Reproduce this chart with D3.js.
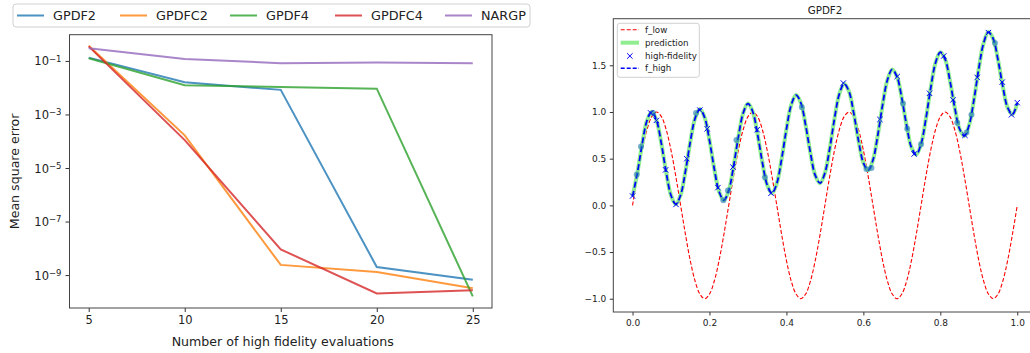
<!DOCTYPE html>
<html>
<head>
<meta charset="utf-8">
<script src="https://cdn.jsdelivr.net/npm/d3@7"></script>
<style>
  html, body { margin: 0; padding: 0; background: #fff; }
  svg { display: block; font-family: "DejaVu Sans", sans-serif; }
</style>
</head>
<body>
<svg id="chart" width="1030" height="353"></svg>
<script>
// ---------- Left chart data ----------
const evals = [5, 10, 15, 20, 25];
const seriesNames = ["GPDF2", "GPDFC2", "GPDF4", "GPDFC4", "NARGP"];
const gpdf2  = [0.133, 0.016, 0.0083, 2.0e-9, 6.7e-10];
const gpdfc2 = [0.37, 1.66e-4, 2.4e-9, 1.3e-9, 3.2e-10];
const gpdf4  = [0.126, 0.0123, 0.0107, 0.0092, 1.6e-10];
const gpdfc4 = [0.35, 1.1e-4, 9.1e-9, 2.06e-10, 2.7e-10];
const nargp  = [0.30, 0.119, 0.082, 0.087, 0.082];
const leftXTicks = [5, 10, 15, 20, 25];
const leftYTickExps = [-1, -3, -5, -7, -9];
const seriesColors = ["#1f77b4", "#ff7f0e", "#2ca02c", "#d62728", "#9467bd"];

// ---------- Right chart data ----------
const xGrid = d3.range(81).map(k => k / 80);
const fLow = [
  0, 0.31, 0.59, 0.81, 0.95, 1, 0.95, 0.81, 0.59, 0.31, 0, -0.31, -0.59, -0.81, -0.95, -1, -0.95, -0.81, -0.59, -0.31,
  0, 0.31, 0.59, 0.81, 0.95, 1, 0.95, 0.81, 0.59, 0.31, 0, -0.31, -0.59, -0.81, -0.95, -1, -0.95, -0.81, -0.59, -0.31,
  0, 0.31, 0.59, 0.81, 0.95, 1, 0.95, 0.81, 0.59, 0.31, 0, -0.31, -0.59, -0.81, -0.95, -1, -0.95, -0.81, -0.59, -0.31,
  0, 0.31, 0.59, 0.81, 0.95, 1, 0.95, 0.81, 0.59, 0.31, 0, -0.31, -0.59, -0.81, -0.95, -1, -0.95, -0.81, -0.59, -0.31,
  0
];
const fHigh = [
  0.096, 0.346, 0.655, 0.906, 1.003, 0.908, 0.660, 0.353, 0.106, 0.013,
  0.111, 0.364, 0.677, 0.931, 1.031, 0.940, 0.695, 0.391, 0.146, 0.056,
  0.158, 0.414, 0.730, 0.987, 1.090, 1.002, 0.760, 0.459, 0.218, 0.131,
  0.236, 0.496, 0.815, 1.075, 1.181, 1.096, 0.857, 0.559, 0.321, 0.238,
  0.346, 0.608, 0.930, 1.193, 1.303, 1.221, 0.985, 0.691, 0.456, 0.375,
  0.486, 0.752, 1.077, 1.343, 1.456, 1.377, 1.145, 0.853, 0.621, 0.544,
  0.658, 0.927, 1.255, 1.525, 1.640, 1.565, 1.335, 1.047, 0.818, 0.744,
  0.861, 1.133, 1.465, 1.737, 1.856, 1.783, 1.557, 1.272, 1.046, 0.975,
  1.096
];
const prediction = fHigh.slice();
const hfX = [0.0, 0.047, 0.062, 0.086, 0.113, 0.141, 0.175, 0.194, 0.222, 0.261, 0.324, 0.36,
             0.548, 0.643, 0.688, 0.732, 0.772, 0.809, 0.833, 0.864, 0.896, 0.925, 0.961, 0.985, 1.0];
const hfY = [0.10, 0.99, 0.91, 0.38, 0.01, 0.50, 1.02, 0.82, 0.19, 0.41, 0.81, 0.13,
             1.31, 0.92, 1.38, 0.55, 1.20, 1.60, 1.13, 0.75, 1.37, 1.85, 1.32, 0.97, 1.10];
const extraX = [0.011, 0.022, 0.053, 0.165, 0.236, 0.248, 0.27, 0.344, 0.44, 0.608, 0.621,
                0.703, 0.714, 0.75, 0.844, 0.868, 0.881, 0.942];
const extraY = [0.33, 0.63, 0.99, 0.99, 0.055, 0.16, 0.70, 0.30, 1.05, 0.39, 0.40,
                1.09, 0.82, 0.655, 0.885, 0.78, 0.97, 1.74];
const rightXTicks = [0.0, 0.2, 0.4, 0.6, 0.8, 1.0];
const rightYTicks = [-1.0, -0.5, 0.0, 0.5, 1.0, 1.5];
const rightLegend = ["f_low", "prediction", "high-fidelity", "f_high"];

const svg = d3.select("#chart");
const minus = s => s.replace("-", "\u2212");

// ================= LEFT CHART =================
const L = { left: 69.5, right: 492, top: 34.7, bottom: 308 };
const lx = d3.scaleLinear().domain([4, 26]).range([L.left, L.right]);
const ly = d3.scaleLog().domain([Math.pow(10, -10.23), Math.pow(10, -0.02)]).range([L.bottom, L.top]);

const lg = svg.append("g");
lg.append("defs").append("clipPath").attr("id", "clipL")
  .append("rect").attr("x", L.left).attr("y", L.top).attr("width", L.right - L.left).attr("height", L.bottom - L.top);

const allSeries = [gpdf2, gpdfc2, gpdf4, gpdfc4, nargp];
const lineL = d3.line().x((d, i) => lx(evals[i])).y(d => ly(d));
const plotL = lg.append("g").attr("clip-path", "url(#clipL)");
allSeries.forEach((vals, si) => {
  plotL.append("path").datum(vals)
    .attr("d", lineL)
    .attr("fill", "none")
    .attr("stroke", seriesColors[si])
    .attr("stroke-opacity", 0.8)
    .attr("stroke-width", 2);
});

// axes
const xAxisL = d3.axisBottom(lx).tickValues(leftXTicks).tickSize(4).tickPadding(4).tickFormat(d3.format("d"));
const gxL = lg.append("g").attr("transform", `translate(0,${L.bottom})`).call(xAxisL);
gxL.select(".domain").remove();
gxL.selectAll("text").attr("font-size", 11.5).attr("fill", "#222").attr("font-family", "DejaVu Sans");
gxL.selectAll("line").attr("stroke", "#333");

const yAxisL = d3.axisLeft(ly).tickValues(leftYTickExps.map(e => Math.pow(10, e))).tickSize(4).tickPadding(4).tickFormat("");
const gyL = lg.append("g").attr("transform", `translate(${L.left},0)`).call(yAxisL);
gyL.select(".domain").remove();
gyL.selectAll("line").attr("stroke", "#333");
gyL.selectAll(".tick").each(function(d, i) {
  const t = d3.select(this).append("text")
    .attr("x", -8).attr("dy", "0.35em")
    .attr("text-anchor", "end")
    .attr("font-size", 11.5).attr("fill", "#222").attr("font-family", "DejaVu Sans");
  t.append("tspan").text("10");
  t.append("tspan").attr("dy", "-0.45em").attr("font-size", 8.5).text(minus(String(leftYTickExps[i])));
});

lg.append("rect").attr("x", L.left).attr("y", L.top).attr("width", L.right - L.left).attr("height", L.bottom - L.top)
  .attr("fill", "none").attr("stroke", "#444").attr("stroke-width", 1);

lg.append("text").attr("x", (L.left + L.right) / 2 + 2).attr("y", 346)
  .attr("text-anchor", "middle").attr("font-size", 12.6).attr("fill", "#222")
  .text("Number of high fidelity evaluations");
lg.append("text").attr("transform", `translate(19,${(L.top + L.bottom) / 2}) rotate(-90)`)
  .attr("text-anchor", "middle").attr("font-size", 12.6).attr("fill", "#222")
  .text("Mean square error");

// legend
const legL = svg.append("g");
legL.append("rect").attr("x", 13).attr("y", 4).attr("width", 517).attr("height", 23).attr("rx", 3)
  .attr("fill", "#fff").attr("fill-opacity", 0.8).attr("stroke", "#d0d0d0");
const legX = [17, 120, 230, 335, 445];
seriesNames.forEach((name, i) => {
  legL.append("line").attr("x1", legX[i]).attr("x2", legX[i] + 27).attr("y1", 15.5).attr("y2", 15.5)
    .attr("stroke", seriesColors[i]).attr("stroke-opacity", 0.8).attr("stroke-width", 2);
  legL.append("text").attr("x", legX[i] + 36).attr("y", 20).attr("font-size", 12.8).attr("fill", "#222").text(name);
});

// ================= RIGHT CHART =================
const R = { left: 613.3, right: 1036.5, top: 18.7, bottom: 312 };
const rx = d3.scaleLinear().domain([-0.05, 1.05]).range([R.left, R.right]);
const ry = d3.scaleLinear().domain([-1.142, 1.999]).range([R.bottom, R.top]);

const rg = svg.append("g");
rg.append("defs").append("clipPath").attr("id", "clipR")
  .append("rect").attr("x", R.left).attr("y", R.top).attr("width", R.right - R.left).attr("height", R.bottom - R.top);
const plotR = rg.append("g").attr("clip-path", "url(#clipR)");

const lineR = vals => d3.line().curve(d3.curveCatmullRom.alpha(0.5))
  .x((d, i) => rx(xGrid[i])).y(d => ry(d))(vals);

plotR.append("path").attr("d", lineR(fLow)).attr("fill", "none")
  .attr("stroke", "#ff0000").attr("stroke-width", 1.1).attr("stroke-dasharray", "4,2");
plotR.append("path").attr("d", lineR(prediction)).attr("fill", "none")
  .attr("stroke", "#90ee90").attr("stroke-width", 4);
plotR.append("path").attr("d", lineR(fHigh)).attr("fill", "none")
  .attr("stroke", "#0000ff").attr("stroke-width", 1.8).attr("stroke-dasharray", "6,3");

// extra circles (semi-transparent)
plotR.selectAll("circle.extra").data(extraX).enter().append("circle")
  .attr("cx", d => rx(d)).attr("cy", (d, i) => ry(extraY[i])).attr("r", 3)
  .attr("fill", "#1f77b4").attr("fill-opacity", 0.6).attr("stroke", "none");

// high-fidelity x markers
const xm = 2.7;
const xPath = (cx, cy) => `M${cx - xm},${cy - xm}L${cx + xm},${cy + xm}M${cx - xm},${cy + xm}L${cx + xm},${cy - xm}`;
plotR.selectAll("path.hf").data(hfX).enter().append("path")
  .attr("d", (d, i) => xPath(rx(d), ry(hfY[i])))
  .attr("stroke", "#0000ff").attr("stroke-width", 1).attr("fill", "none");

// axes
const xAxisR = d3.axisBottom(rx).tickValues(rightXTicks).tickSize(3.5).tickPadding(4).tickFormat(d3.format(".1f"));
const gxR = rg.append("g").attr("transform", `translate(0,${R.bottom})`).call(xAxisR);
gxR.select(".domain").remove();
gxR.selectAll("text").attr("font-size", 9).attr("fill", "#222").attr("font-family", "DejaVu Sans");
gxR.selectAll("line").attr("stroke", "#333");

const yAxisR = d3.axisLeft(ry).tickValues(rightYTicks).tickSize(3.5).tickPadding(3.5)
  .tickFormat(d => minus(d3.format(".1f")(d)));
const gyR = rg.append("g").attr("transform", `translate(${R.left},0)`).call(yAxisR);
gyR.select(".domain").remove();
gyR.selectAll("text").attr("font-size", 9).attr("fill", "#222").attr("font-family", "DejaVu Sans");
gyR.selectAll("line").attr("stroke", "#333");

rg.append("rect").attr("x", R.left).attr("y", R.top).attr("width", R.right - R.left).attr("height", R.bottom - R.top)
  .attr("fill", "none").attr("stroke", "#444").attr("stroke-width", 1);

rg.append("text").attr("x", 825).attr("y", 14).attr("text-anchor", "middle")
  .attr("font-size", 10.3).attr("fill", "#222").text("GPDF2");

// right legend
const legR = svg.append("g");
legR.append("rect").attr("x", 617.3).attr("y", 23.3).attr("width", 82).attr("height", 54).attr("rx", 2.5)
  .attr("fill", "#fff").attr("fill-opacity", 0.8).attr("stroke", "#d0d0d0");
const rowY = [29.7, 42.7, 56, 68.3];
const hx1 = 620.7, hx2 = 639;
legR.append("line").attr("x1", hx1).attr("x2", hx2).attr("y1", rowY[0]).attr("y2", rowY[0])
  .attr("stroke", "#ff0000").attr("stroke-width", 1.1).attr("stroke-dasharray", "4,2");
legR.append("line").attr("x1", hx1).attr("x2", hx2).attr("y1", rowY[1]).attr("y2", rowY[1])
  .attr("stroke", "#90ee90").attr("stroke-width", 4);
legR.append("path").attr("d", xPath((hx1 + hx2) / 2, rowY[2]))
  .attr("stroke", "#0000ff").attr("stroke-width", 1).attr("fill", "none");
legR.append("line").attr("x1", hx1).attr("x2", hx2).attr("y1", rowY[3]).attr("y2", rowY[3])
  .attr("stroke", "#0000ff").attr("stroke-width", 1.5).attr("stroke-dasharray", "4,2");
rightLegend.forEach((name, i) => {
  legR.append("text").attr("x", 645).attr("y", rowY[i] + 3).attr("font-size", 8.7).attr("fill", "#222").text(name);
});
</script>
</body>
</html>
